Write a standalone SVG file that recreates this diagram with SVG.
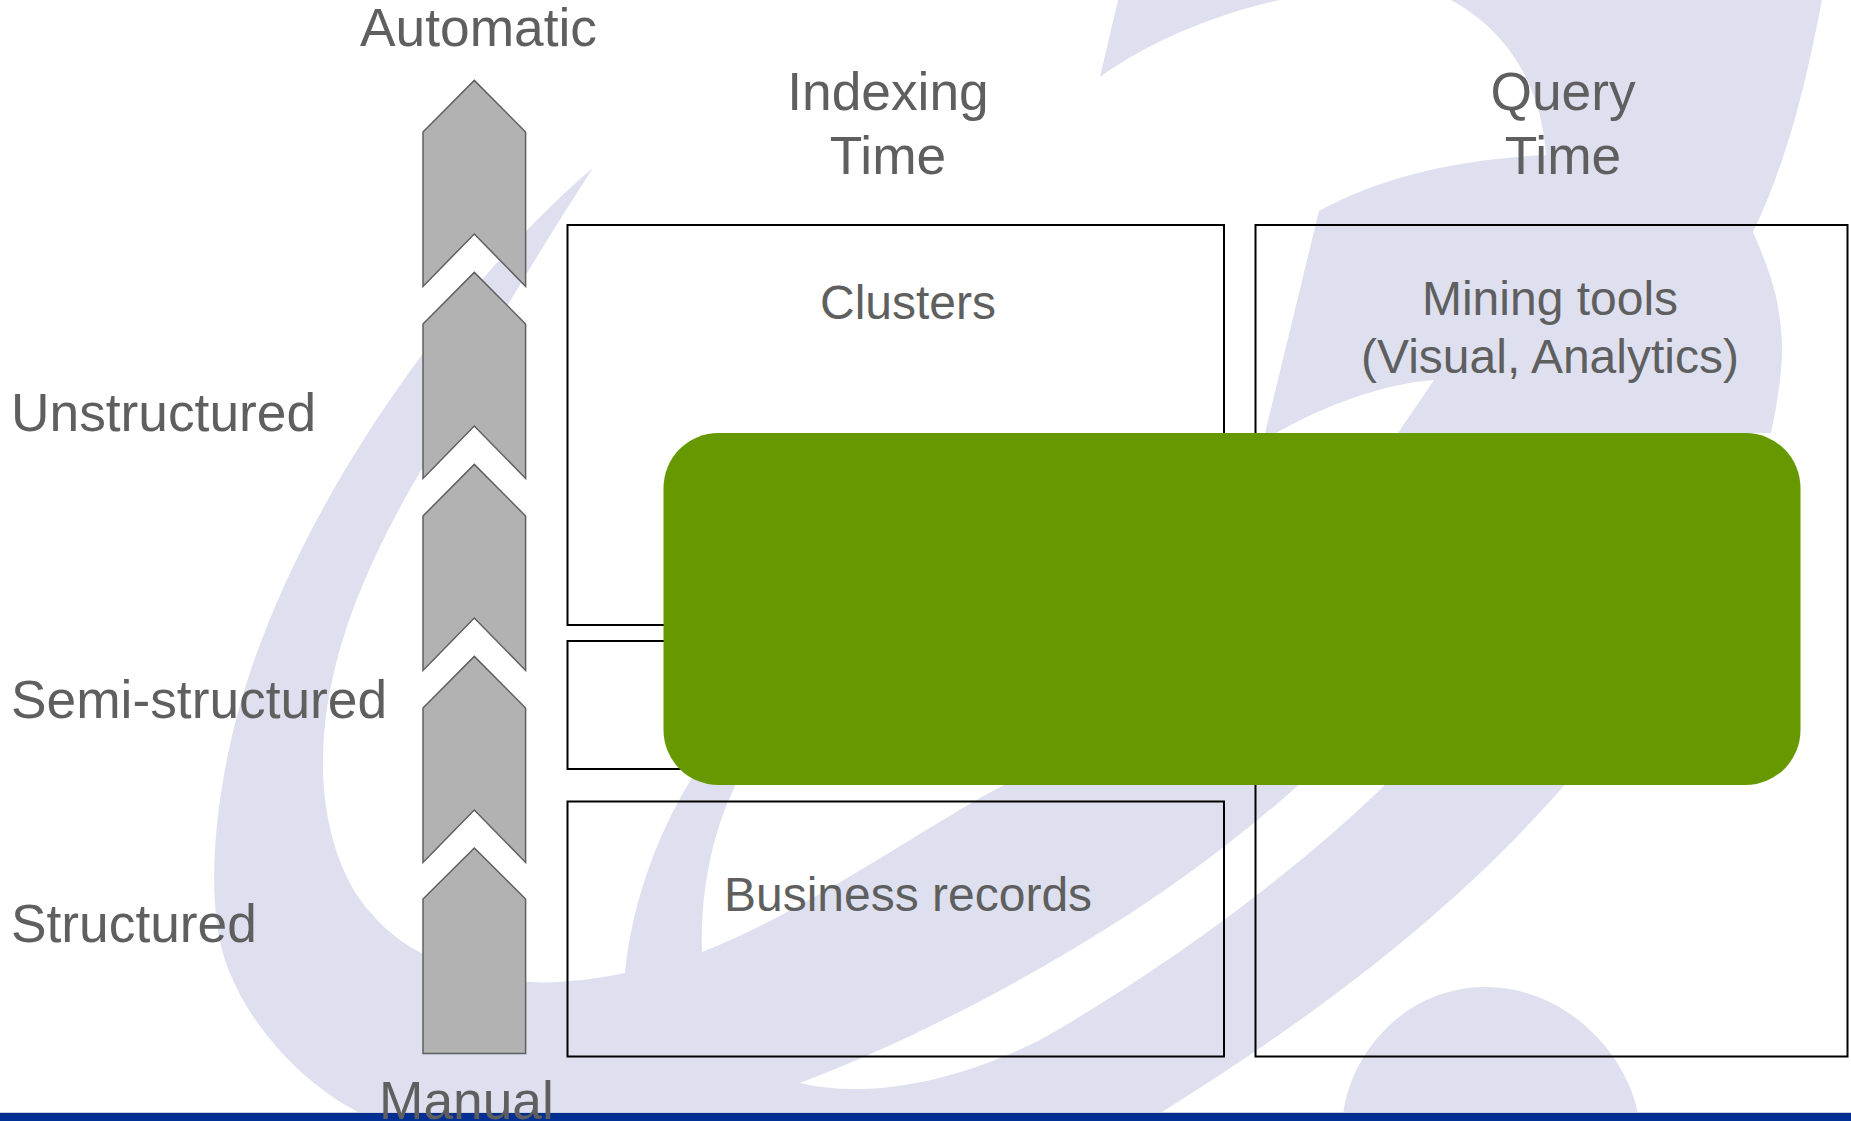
<svg xmlns="http://www.w3.org/2000/svg" width="1851" height="1121" viewBox="0 0 1851 1121">
<style>
.wm{fill:#dee0ef}
.box{fill:none;stroke:#000;stroke-width:2}
.arr{fill:#b2b2b2;stroke:#5f5f5f;stroke-width:1.5}
text{font-family:"Liberation Sans",Arial,sans-serif;fill:#5f5f5f}
.l{font-size:53.3px}
.m{font-size:48px}
.c{text-anchor:middle}
</style>
<defs>
<path id="chev" d="M474.3,80.4 L525.6,132 L525.6,286.4 L474.3,234 L423,286.4 L423,132 Z"/>
</defs>
<rect width="1851" height="1121" fill="#fff"/>
<g id="watermark" class="wm">
<path d="M593,168 C460,280 290,510 236,720 C215,800 205,900 225,960 C245,1020 300,1085 366,1116 L1157,1116 L1162,1112 C1300,1025 1450,920 1573,775 L1395,775 C1310,860 1180,960 1040,1040 C960,1080 870,1100 800,1083 C900,1045 1020,985 1131,913 C1200,868 1260,820 1310,775 L1018,775 L1004,785 C930,823 810,910 702,952 C700,900 710,830 741,775 L694,775 L689,783 C660,830 632,900 625,973 C590,980 550,985 520,981 C470,975 410,960 371,913 C340,880 322,820 323,760 C324,680 350,590 423,467 C465,370 540,250 593,168 Z"/>
<path d="M1118,0 L1100,77 C1150,41 1216,14 1280,0 L1451,0 C1506,30 1541,83 1546,155 C1458,159 1381,177 1319,211 L1265,433 L1276,433 C1322,407 1381,384 1434,380 L1398,433 L1771,433 C1780,390 1785,354 1780,321 C1777,289 1765,260 1753,232 C1788,159 1806,83 1822,0 Z"/>
<path d="M1343,1116 C1348,1060 1400,987 1486,987 C1570,987 1630,1060 1638,1116 Z"/>
</g>
<g id="footer-bar">
<rect x="0" y="1112" width="1851" height="1" fill="#c3d2ea"/>
<rect x="0" y="1113" width="1851" height="2" fill="#0b2d86"/>
<rect x="0" y="1115" width="1851" height="6" fill="#002f96"/>
</g>
<g id="arrow-1" class="arr"><use href="#chev"/></g>
<g id="arrow-2" class="arr"><use href="#chev" y="192"/></g>
<g id="arrow-3" class="arr"><use href="#chev" y="384"/></g>
<g id="arrow-4" class="arr"><use href="#chev" y="576"/></g>
<g id="arrow-5" class="arr"><path d="M474.3,848 L525.6,899 L525.6,1053.6 L423,1053.6 L423,899 Z"/></g>
<g id="box-clusters"><rect class="box" x="567.5" y="225" width="656.5" height="400"/><text class="m c" x="908" y="319">Clusters</text></g>
<g id="box-middle"><rect class="box" x="567.5" y="641" width="656.5" height="128"/></g>
<g id="box-business"><rect class="box" x="567.5" y="801.5" width="656.5" height="255"/><text class="m c" x="908" y="911">Business records</text></g>
<g id="box-query"><rect class="box" x="1255.5" y="225" width="592" height="831.5"/><text class="m c" x="1550" y="315">Mining tools</text><text class="m c" x="1550" y="373">(Visual, Analytics)</text></g>
<g id="green-panel"><rect x="663.5" y="433" width="1137" height="352" rx="55" ry="55" fill="#669900"/></g>
<g id="labels">
<text class="l" x="360" y="46">Automatic</text>
<text class="l c" x="888" y="110">Indexing</text>
<text class="l c" x="888" y="174">Time</text>
<text class="l c" x="1563" y="110">Query</text>
<text class="l c" x="1563" y="174">Time</text>
<text class="l" x="11" y="431">Unstructured</text>
<text class="l" x="11" y="718">Semi-structured</text>
<text class="l" x="11" y="942">Structured</text>
<text class="l" x="379" y="1118.5">Manual</text>
</g>
<g id="connectors"/>
</svg>
